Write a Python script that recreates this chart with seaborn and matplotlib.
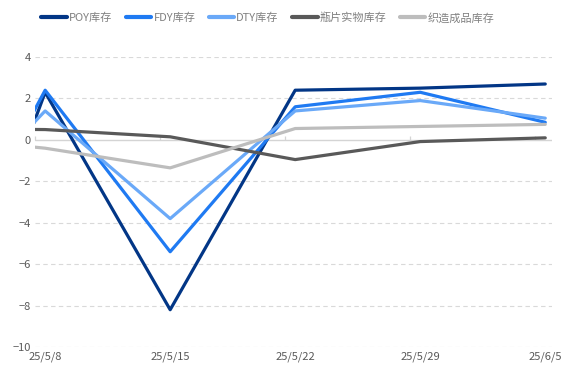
import pandas as pd
import seaborn as sns
import matplotlib.pyplot as plt
import numpy as np

# === DANE ===
dates = ["25/5/1", "25/5/8", "25/5/15", "25/5/22", "25/5/29", "25/6/5"]
poy = [-14.0, 2.3, -8.2, 2.4, 2.5, 2.7]
fdy = [-8.9, 2.4, -5.4, 1.6, 2.3, 0.85]
dty = [-4.9, 1.4, -3.8, 1.4, 1.9, 1.05]
bottle = [0.55, 0.5, 0.15, -0.95, -0.08, 0.1]
fabric = [0.2, -0.4, -1.35, 0.55, 0.65, 0.75]

names = ["POY库存", "FDY库存", "DTY库存", "瓶片实物库存", "织造成品库存"]
colors = ["#023686", "#1F7AF2", "#6AA9F8", "#595959", "#BDBDBD"]
series = [poy, fdy, dty, bottle, fabric]

rows = []
for name, vals in zip(names, series):
    for i, v in enumerate(vals):
        rows.append({"x": i, "date": dates[i], "value": v, "series": name})
df = pd.DataFrame(rows)

# === STYL ===
sns.set_style("white")
plt.rcParams["font.family"] = ["Noto Sans CJK SC", "DejaVu Sans"]

fig = plt.figure(figsize=(5.67, 3.78), dpi=100)
ax = fig.add_axes([0.062, 0.082, 0.912, 0.767])

sns.lineplot(data=df, x="x", y="value", hue="series", hue_order=names,
             palette=colors, linewidth=2.3, ax=ax, sort=True)

ax.set_xlim(0.92, 5.056)
ax.set_ylim(-10, 4)
ax.set_yticks(np.arange(-10, 5, 2))
ax.set_xticks(range(1, len(dates)))
ax.set_xticklabels(dates[1:])
ax.tick_params(axis="both", length=0, labelsize=8, labelcolor="#595959", pad=3)
ax.set_xlabel("")
ax.set_ylabel("")
for s in ax.spines.values():
    s.set_visible(False)

# siatka przerywana
for y in np.arange(-10, 5, 2):
    if y != 0:
        ax.axhline(y, color="#D9D9D9", lw=0.8, ls=(0, (4, 3)), zorder=0)
ax.axhline(0, color="#D4D4D4", lw=1.0, zorder=1)

# kreski na osi zero
sec = ax.secondary_xaxis(10 / 14)
sec.set_xticks([k - 0.08 for k in range(1, len(dates))])
sec.set_xticklabels([])
sec.tick_params(length=3, color="#D4D4D4", width=0.9)
for s in sec.spines.values():
    s.set_visible(False)

leg = ax.legend(loc="center", bbox_to_anchor=(0.45, 1.135), ncol=5,
                frameon=False, handlelength=2.3, columnspacing=1.2,
                handletextpad=0.2, fontsize=8, borderaxespad=0)
for t in leg.get_texts():
    t.set_color("#808080")
for h in leg.get_lines():
    h.set_linewidth(3)

fig.savefig("out.png", dpi=100)
